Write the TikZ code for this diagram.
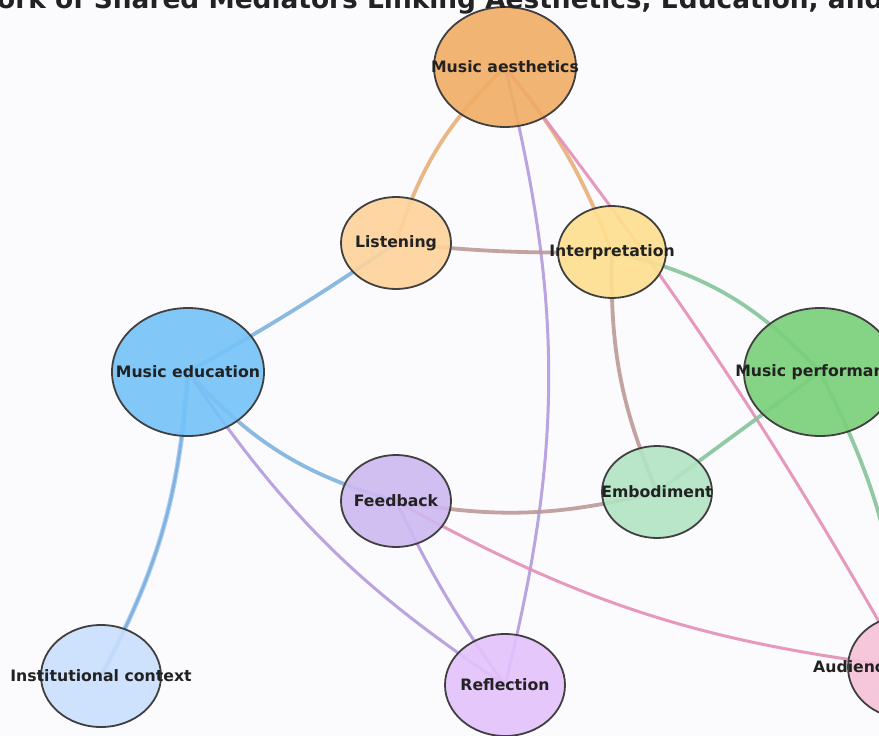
\documentclass[tikz,border=0pt]{standalone}
\usepackage{fontspec}
\setmainfont{DejaVu Sans}
\usetikzlibrary{shapes.geometric}
\pgfdeclarelayer{bg}
\pgfdeclarelayer{edges}
\pgfsetlayers{bg,edges,main}
\definecolor{bgc}{HTML}{FBFBFD}
\definecolor{ndline}{HTML}{404040}
\definecolor{txt}{HTML}{222222}
\definecolor{cAes}{HTML}{F1AD64}
\definecolor{cLis}{HTML}{FFD39B}
\definecolor{cInt}{HTML}{FFDF8F}
\definecolor{cEdu}{HTML}{74C2F8}
\definecolor{cPer}{HTML}{79D079}
\definecolor{cFee}{HTML}{CEB9F1}
\definecolor{cEmb}{HTML}{B2E4C3}
\definecolor{cIns}{HTML}{CADFFD}
\definecolor{cRef}{HTML}{E4C2FC}
\definecolor{cAud}{HTML}{F6C2D8}
\definecolor{eOra}{HTML}{E8B07A}
\definecolor{ePur}{HTML}{B49ADE}
\definecolor{ePin}{HTML}{E48FB7}
\definecolor{eBro}{HTML}{BC9A98}
\definecolor{eBlu}{HTML}{7FB3DD}
\definecolor{eBlL}{HTML}{A9C8F7}
\definecolor{eGre}{HTML}{86C49C}
\begin{document}
\begin{tikzpicture}[x=1pt,y=-1pt,
  nd/.style={ellipse, draw=ndline, line width=1.8pt, fill opacity=0.9, inner sep=0pt, outer sep=0pt},
  lbl/.style={font=\fontsize{15.7}{18}\selectfont\bfseries, text=txt, inner sep=0pt},
  ed/.style={line width=3.8pt, draw opacity=0.9},
  edt/.style={line width=3pt, draw opacity=0.9},
  ttl/.style={font=\fontsize{26.4}{30}\selectfont\bfseries, text=txt, inner sep=0pt}
]
\useasboundingbox (0,0) rectangle (879,736);
\clip (0,0) rectangle (879,736);
\begin{pgfonlayer}{bg}
\fill[bgc] (0,0) rectangle (879,736);
\end{pgfonlayer}

\node[nd, fill=cAes, minimum width=142pt, minimum height=120pt, label={[lbl]center:Music aesthetics}] (aes) at (505,67) {};
\node[nd, fill=cLis, minimum width=110pt, minimum height=92pt, label={[lbl]center:Listening}] (lis) at (396,243) {};
\node[nd, fill=cInt, minimum width=108pt, minimum height=92pt, label={[lbl]center:Interpretation}] (int) at (612,252) {};
\node[nd, fill=cEdu, minimum width=152pt, minimum height=128pt, label={[lbl]center:Music education}] (edu) at (188,372) {};
\node[nd, fill=cPer, minimum width=152pt, minimum height=128pt, label={[lbl]center:Music performance}] (per) at (820,372) {};
\node[nd, fill=cFee, minimum width=110pt, minimum height=92pt, label={[lbl]center:Feedback}] (fee) at (396,501) {};
\node[nd, fill=cEmb, minimum width=110pt, minimum height=92pt, label={[lbl]center:Embodiment}] (emb) at (657,492) {};
\node[nd, fill=cIns, minimum width=120pt, minimum height=102pt, label={[lbl]center:Institutional context}] (ins) at (101,676) {};
\node[nd, fill=cRef, minimum width=120pt, minimum height=102pt, label={[lbl]center:Reflection}] (ref) at (505,685) {};
\node[nd, fill=cAud, minimum width=114pt, minimum height=102pt] (aud) at (905,667) {};
\node[lbl, anchor=west] (audl) at (813,667) {Audience};

\node[ttl, anchor=base west] (title) at (-3,9) {ork of Shared Mediators Linking Aesthetics, Education, and};

\begin{pgfonlayer}{edges}
\draw[ed, eOra] (aes.center) to[bend right=14] (lis.center);
\draw[ed, eOra] (aes.center) to[bend left=9] (int.center);
\draw[edt, ePur] (aes.center) to[bend left=14] (ref.center);
\draw[edt, ePin] (aes.center) to[bend left=4] (aud.center);
\draw[ed, eBro] (lis.center) to[bend right=3.5] (int.center);
\draw[ed, eBlu] (lis.center) to[bend left=2.5] (edu.center);
\draw[ed, eGre] (int.center) to[bend left=17] (per.center);
\draw[ed, eGre] (per.center) to[bend left=11] (aud.center);
\draw[ed, eGre] (emb.center) -- (per.center);
\draw[ed, eBro] (int.center) to[bend right=12] (emb.center);
\draw[ed, eBro] (fee.center) to[bend right=12] (emb.center);
\draw[ed, eBlu] (edu.center) to[bend right=16] (fee.center);
\draw[line width=4.8pt, eBlL, draw opacity=0.9] (edu.center) to[bend left=12] (ins.center);
\draw[line width=2.6pt, eBlu] (edu.center) to[bend left=12] (ins.center);
\draw[edt, ePur] (edu.center) to[bend right=11] (ref.center);
\draw[edt, ePur] (fee.center) to[bend right=5] (ref.center);
\draw[edt, ePin] (fee.center) to[bend right=11] (aud.center);
\end{pgfonlayer}
\end{tikzpicture}
\end{document}
